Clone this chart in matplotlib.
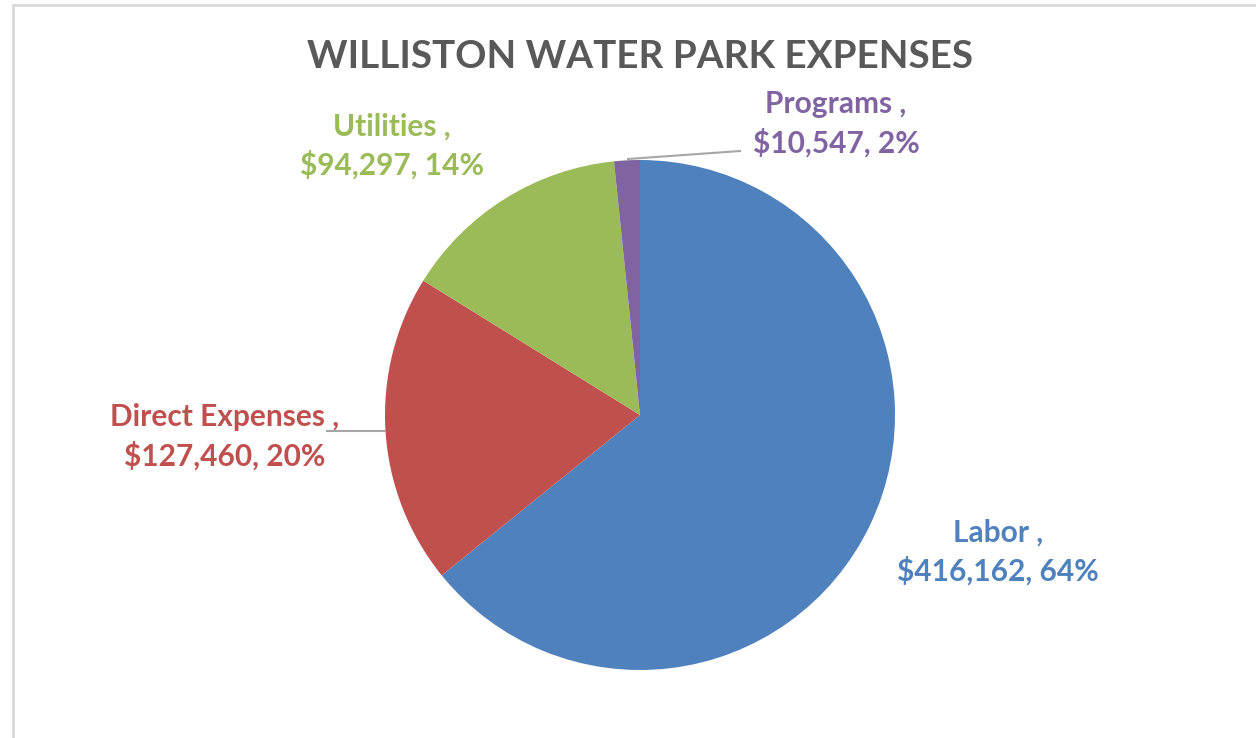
import matplotlib.pyplot as plt
from matplotlib.patches import Rectangle

# Expense data
categories = ['Labor', 'Direct Expenses', 'Utilities', 'Programs']
amounts = [416162, 127460, 94297, 10547]
percents = [64, 20, 14, 2]
colors = ['#4F81BD', '#C0504D', '#9BBB59', '#8064A2']

W, H = 1256, 738
fig = plt.figure(figsize=(W / 100, H / 100), dpi=100)
ax = fig.add_axes([0, 0, 1, 1])

# chart frame (cut off at right and bottom)
ax.add_patch(Rectangle((13, -10), W + 20, H - 5 + 10, fill=False,
                       edgecolor='#d9d9d9', linewidth=2))

cx, cy, r = 640, H - 415, 255
ax.pie(amounts, colors=colors, startangle=90, counterclock=False,
       center=(cx, cy), radius=r, frame=True,
       wedgeprops=dict(linewidth=0))
ax.set_xlim(0, W)
ax.set_ylim(0, H)
ax.set_aspect('equal')
ax.axis('off')

font = 'Lato'
ax.text(640, H - 57, 'WILLISTON WATER PARK EXPENSES', ha='center', va='center',
        fontsize=27.8, fontweight='bold', color='#595959', family=font)

# label positions (pixel coords, top-left origin)
label_pos = {
    'Labor': (998, 552),
    'Direct Expenses': (225, 437),
    'Utilities': (392, 146),
    'Programs': (836, 124),
}
for name, amt, pct, col in zip(categories, amounts, percents, colors):
    x, y = label_pos[name]
    ax.text(x, H - y, f'{name} ,\n${amt:,}, {pct}%', ha='center', va='center',
            fontsize=21.5, fontweight='bold', color=col, family=font,
            linespacing=1.42)

# leader lines
ax.plot([628, 740], [H - 159, H - 151], color='#a6a6a6', lw=1.5)
ax.plot([327, 385], [H - 431, H - 431], color='#a6a6a6', lw=1.5)

fig.savefig('out.png', dpi=100)
